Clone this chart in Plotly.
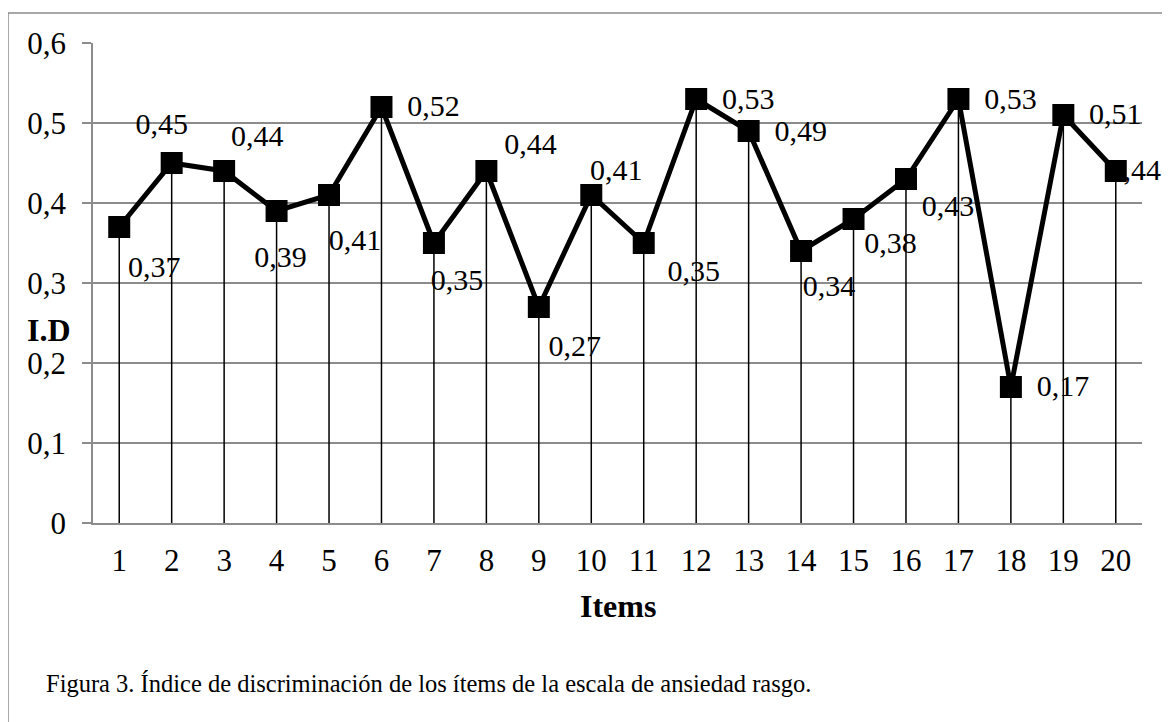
import plotly.graph_objects as go

# ---- data ----
items = list(range(1, 21))
values = [0.37, 0.45, 0.44, 0.39, 0.41, 0.52, 0.35, 0.44, 0.27, 0.41,
          0.35, 0.53, 0.49, 0.34, 0.38, 0.43, 0.53, 0.17, 0.51, 0.44]
labels = [f"{v:.2f}".replace(".", ",") for v in values]
y_ticks = [0, 0.1, 0.2, 0.3, 0.4, 0.5, 0.6]
y_ticktext = ["0", "0,1", "0,2", "0,3", "0,4", "0,5", "0,6"]

# ---- label offsets (pixels, right / up) ----
dx_px = [35, -10, 33, 4, 26, 52, 23, 44, 36, 25, 50, 52, 52, 28, 37, 42, 52, 52, 52, 19]
dy_px = [-42, 37, 33, -48, -47, -1, -39, 25, -41, 23, -30, -2, -2, -37, -26, -29, -2, -1, -1, -1]

# ---- layout geometry (page has an 8px body margin) ----
OFF = 8
W, H = 1170 - OFF, 722 - OFF
ML, MT = 93 - OFF, 43 - OFF
MR = W - (1142 - OFF)
MB = H - (523 - OFF)
plot_w = W - ML - MR
plot_h = H - MT - MB
x_range = [0.5, 20.5]
y_range = [0, 0.6]
px_per_x = plot_w / (x_range[1] - x_range[0])
px_per_y = plot_h / (y_range[1] - y_range[0])

FONT = "Liberation Serif, Times New Roman, serif"
FS_TICK = 31
FS_LABEL = 30
FS_TITLE = 32
FS_CAPTION = 24.5

lab_x = [i + dx / px_per_x for i, dx in zip(items, dx_px)]
lab_y = [v + dy / px_per_y for v, dy in zip(values, dy_px)]

fig = go.Figure()

# data labels (under markers)
fig.add_trace(go.Scatter(
    x=lab_x, y=lab_y, mode="text", text=labels,
    textposition="middle center",
    textfont=dict(family=FONT, size=FS_LABEL, color="black"),
    hoverinfo="skip", showlegend=False, cliponaxis=False,
))

# main line with drop lines
fig.add_trace(go.Scatter(
    x=items, y=values, mode="lines+markers",
    line=dict(color="black", width=5),
    marker=dict(symbol="square", size=22, color="black"),
    error_y=dict(type="data", symmetric=False, array=[0] * len(values),
                 arrayminus=values, color="black", thickness=1.5, width=0),
    showlegend=False, cliponaxis=False,
))


def px_to_paper_x(px):
    return (px - OFF - ML) / plot_w


def px_to_paper_y(py):
    return (H - MB - (py - OFF)) / plot_h


GRID = "#8c8c8c"

fig.update_layout(
    width=W, height=H,
    margin=dict(l=ML, r=MR, t=MT, b=MB),
    paper_bgcolor="white", plot_bgcolor="white",
    separators=", ",
    font=dict(family=FONT, size=FS_TICK, color="black"),
    xaxis=dict(
        range=x_range, tickmode="array", tickvals=items,
        ticktext=[str(i) for i in items],
        showgrid=False, zeroline=False,
        showline=True, linecolor=GRID, linewidth=1.5,
        ticks="", ticklabelstandoff=9,
        tickfont=dict(family=FONT, size=FS_TICK, color="black"),
    ),
    yaxis=dict(
        range=y_range, tickmode="array",
        tickvals=y_ticks, ticktext=y_ticktext,
        showgrid=True, gridcolor=GRID, gridwidth=1.5,
        zeroline=False,
        showline=True, linecolor=GRID, linewidth=1.5,
        ticks="outside", ticklen=9, tickcolor=GRID, tickwidth=1.5,
        ticklabelstandoff=10,
        tickfont=dict(family=FONT, size=FS_TICK, color="black"),
    ),
    shapes=[dict(
        type="rect", xref="paper", yref="paper",
        x0=px_to_paper_x(8), x1=px_to_paper_x(1190),
        y0=px_to_paper_y(760), y1=px_to_paper_y(13),
        line=dict(color=GRID, width=1.5), fillcolor="rgba(0,0,0,0)",
        layer="below",
    )],
    annotations=[
        dict(text="<b>Items</b>", xref="paper", yref="paper",
             x=0.5, y=px_to_paper_y(606), xanchor="center", yanchor="middle",
             showarrow=False, font=dict(family=FONT, size=FS_TITLE, color="black")),
        dict(text="<b>I.D</b>", xref="paper", yref="paper",
             x=px_to_paper_x(49), y=px_to_paper_y(330), xanchor="center", yanchor="middle",
             showarrow=False, font=dict(family=FONT, size=FS_TITLE, color="black")),
        dict(text="Figura 3. Índice de discriminación de los ítems de la escala de ansiedad rasgo.",
             xref="paper", yref="paper",
             x=px_to_paper_x(44), y=px_to_paper_y(683), xanchor="left", yanchor="middle",
             showarrow=False, font=dict(family=FONT, size=FS_CAPTION, color="black")),
    ],
)

fig.write_html("out.html")
